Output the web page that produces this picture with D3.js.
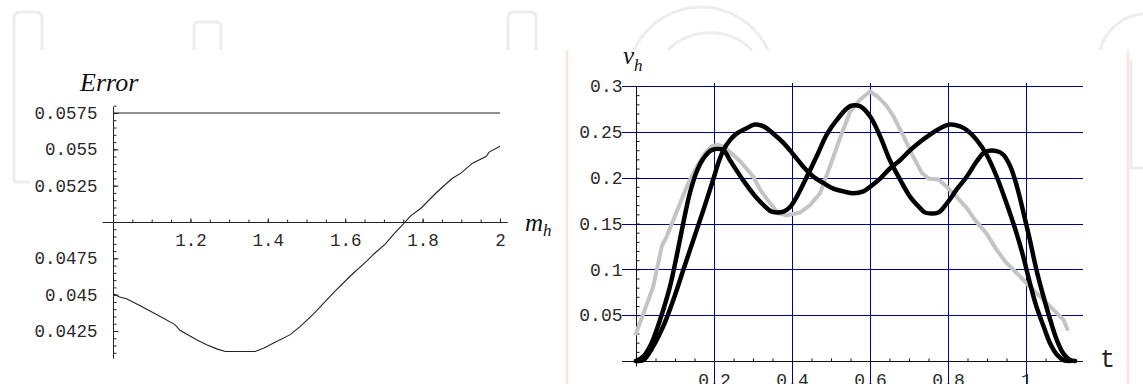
<!DOCTYPE html>
<html>
<head>
<meta charset="utf-8">
<script src="https://cdn.jsdelivr.net/npm/d3@7"></script>
<style>
  body { margin: 0; background: #fff; }
  .tick text { font-family: "Liberation Mono", "DejaVu Sans Mono", monospace; fill: #2a2a2a; }
  .math { font-family: "Liberation Serif", "DejaVu Serif", serif; font-style: italic; fill: #111; }
</style>
</head>
<body>
<script>
// ---- data: left panel (Error vs m_h) ----
let errorCurve = [
  [1.000, 0.04507], [1.017, 0.04484], [1.035, 0.04472], [1.069, 0.04426], [1.121, 0.04352],
  [1.160, 0.04294], [1.173, 0.04255], [1.216, 0.04190], [1.242, 0.04155], [1.268, 0.04127],
  [1.290, 0.04109], [1.367, 0.04109], [1.389, 0.04132], [1.415, 0.04167], [1.458, 0.04225],
  [1.484, 0.04282], [1.519, 0.04370], [1.570, 0.04514], [1.614, 0.04630], [1.657, 0.04734],
  [1.674, 0.04780], [1.704, 0.04850], [1.726, 0.04919], [1.748, 0.04981], [1.769, 0.05042],
  [1.795, 0.05093], [1.838, 0.05208], [1.877, 0.05301], [1.899, 0.05336], [1.929, 0.05405],
  [1.964, 0.05451], [1.972, 0.05481], [2.000, 0.05521]
];
let errorBound = [[1, 0.0575], [2, 0.0575]];
let errXTicks = [1.2, 1.4, 1.6, 1.8, 2];
let errXLabels = ["1.2", "1.4", "1.6", "1.8", "2"];
let errYTicks = [0.0425, 0.045, 0.0475, 0.0525, 0.055, 0.0575];
let errYLabels = ["0.0425", "0.045", "0.0475", "0.0525", "0.055", "0.0575"];

// ---- data: right panel (v_h vs t) ----
let grayCurve = [
  [0, 0.030], [0.019, 0.052], [0.044, 0.081], [0.066, 0.125], [0.079, 0.136], [0.096, 0.154],
  [0.113, 0.172], [0.134, 0.194], [0.156, 0.212], [0.177, 0.227], [0.194, 0.234], [0.208, 0.236],
  [0.224, 0.234], [0.241, 0.228], [0.267, 0.218], [0.301, 0.201], [0.318, 0.187], [0.344, 0.172],
  [0.365, 0.161], [0.386, 0.159], [0.421, 0.162], [0.446, 0.170], [0.472, 0.183], [0.497, 0.212],
  [0.523, 0.243], [0.549, 0.272], [0.574, 0.285], [0.600, 0.294], [0.621, 0.288], [0.643, 0.278],
  [0.660, 0.267], [0.686, 0.245], [0.711, 0.223], [0.733, 0.205], [0.750, 0.199], [0.775, 0.198],
  [0.797, 0.190], [0.822, 0.179], [0.848, 0.167], [0.869, 0.154], [0.899, 0.139], [0.925, 0.121],
  [0.950, 0.107], [0.976, 0.096], [1.010, 0.081], [1.045, 0.067], [1.070, 0.056], [1.096, 0.045],
  [1.106, 0.035]
];
let threePeak = [
  [0, 0], [0.019, 0.005], [0.036, 0.016], [0.053, 0.034], [0.070, 0.056], [0.087, 0.081],
  [0.104, 0.114], [0.121, 0.150], [0.138, 0.183], [0.156, 0.207], [0.173, 0.221], [0.194, 0.230],
  [0.224, 0.230], [0.241, 0.219], [0.275, 0.197], [0.309, 0.178], [0.335, 0.167], [0.348, 0.163],
  [0.378, 0.163], [0.395, 0.168], [0.412, 0.179], [0.438, 0.201], [0.463, 0.223], [0.489, 0.247],
  [0.515, 0.263], [0.549, 0.278], [0.574, 0.278], [0.600, 0.267], [0.626, 0.245], [0.651, 0.219],
  [0.677, 0.198], [0.703, 0.179], [0.728, 0.167], [0.741, 0.162], [0.775, 0.162], [0.797, 0.172],
  [0.822, 0.187], [0.848, 0.201], [0.874, 0.218], [0.895, 0.228], [0.925, 0.229], [0.942, 0.225],
  [0.960, 0.212], [0.977, 0.190], [0.994, 0.161], [1.010, 0.132], [1.027, 0.099], [1.045, 0.070],
  [1.062, 0.045], [1.079, 0.023], [1.096, 0.008], [1.113, 0.001], [1.126, 0]
];
let twoPeak = [
  [0, 0], [0.019, 0.001], [0.044, 0.016], [0.070, 0.038], [0.096, 0.067], [0.121, 0.099],
  [0.147, 0.132], [0.173, 0.165], [0.198, 0.198], [0.211, 0.216], [0.224, 0.230], [0.241, 0.241],
  [0.258, 0.248], [0.284, 0.254], [0.305, 0.258], [0.327, 0.256], [0.352, 0.248], [0.378, 0.238],
  [0.404, 0.225], [0.429, 0.212], [0.455, 0.201], [0.481, 0.194], [0.506, 0.188], [0.532, 0.185],
  [0.557, 0.183], [0.583, 0.185], [0.600, 0.190], [0.626, 0.199], [0.651, 0.210], [0.677, 0.219],
  [0.703, 0.230], [0.728, 0.239], [0.754, 0.247], [0.780, 0.254], [0.805, 0.258], [0.831, 0.256],
  [0.848, 0.252], [0.874, 0.241], [0.899, 0.225], [0.925, 0.201], [0.950, 0.172], [0.976, 0.139],
  [0.993, 0.114], [1.010, 0.085], [1.027, 0.059], [1.045, 0.038], [1.062, 0.019], [1.079, 0.007],
  [1.096, 0.001], [1.113, 0]
];
let vXTicks = [0.2, 0.4, 0.6, 0.8, 1];
let vXLabels = ["0.2", "0.4", "0.6", "0.8", "1"];
let vYTicks = [0.05, 0.1, 0.15, 0.2, 0.25, 0.3];
let vYLabels = ["0.05", "0.1", "0.15", "0.2", "0.25", "0.3"];

let width = 1143, height = 384;
let svg = d3.select("body").append("svg")
    .attr("width", width).attr("height", height);

// faint page watermark behind the figures
let wm = svg.append("g").attr("fill", "none").attr("stroke", "#ededed").attr("stroke-width", 3);
wm.append("path").attr("d", "M14,182 L14,18 Q14,12 20,12 L36,12 Q42,12 42,18 L42,50 M14,182 L30,182");
wm.append("path").attr("d", "M194,50 L194,27 Q194,22 199,22 L216,22 Q221,22 221,27 L221,50");
wm.append("path").attr("d", "M508,50 L508,18 Q508,12 514,12 L530,12 Q536,12 536,18 L536,50");
wm.append("path").attr("d", "M634,50 A73.7,73.7 0 0 1 768,50 M668,50 A60,60 0 0 1 752,50");
wm.append("path").attr("d", "M1143,14 A48,48 0 0 0 1100,50 M1131,60 L1131,168 L1143,168");
svg.append("g").attr("stroke", "#fbe3e3").attr("stroke-width", 2.5)
  .selectAll("line").data([567, 1128]).join("line")
  .attr("x1", d => d).attr("x2", d => d).attr("y1", 50).attr("y2", height);

// snap a scale position to a pixel centre so 1px lines stay crisp
let px = v => Math.round(v) + 0.5;

// ================= left panel =================
let xL = d3.scaleLinear().domain([1, 2]).range([113, 500]);
let yL = d3.scaleLinear().domain([0.0425, 0.0575]).range([331, 113]);
let left = svg.append("g");

left.append("line").attr("stroke", "#222")
  .attr("x1", xL(0.973)).attr("x2", xL(2.02)).attr("y1", px(yL(0.05))).attr("y2", px(yL(0.05)));
left.append("line").attr("stroke", "#222")
  .attr("x1", px(xL(1))).attr("x2", px(xL(1))).attr("y1", yL(0.0579)).attr("y2", yL(0.0406));

left.append("g").attr("transform", "translate(0," + px(yL(0.05)) + ")")
  .call(d3.axisBottom(xL).tickValues(d3.range(1.05, 2.01, 0.05)).tickSize(-3).tickFormat(""))
  .call(g => g.select(".domain").remove());
left.append("g").attr("transform", "translate(0," + px(yL(0.05)) + ")")
  .call(d3.axisBottom(xL).tickValues(errXTicks).tickSize(-4).tickPadding(11)
    .tickFormat((d, i) => errXLabels[i]))
  .call(g => g.select(".domain").remove())
  .call(g => g.selectAll("text").attr("font-size", 17.5));

left.append("g").attr("transform", "translate(" + px(xL(1)) + ",0)")
  .call(d3.axisLeft(yL).tickValues(d3.range(0.041, 0.0581, 0.0005)).tickSize(-3).tickFormat(""))
  .call(g => g.select(".domain").remove());
left.append("g").attr("transform", "translate(" + px(xL(1)) + ",0)")
  .call(d3.axisLeft(yL).tickValues(errYTicks).tickSize(-5).tickPadding(16)
    .tickFormat((d, i) => errYLabels[i]))
  .call(g => g.select(".domain").remove())
  .call(g => g.selectAll("text").attr("font-size", 17.5));
left.selectAll(".tick line").attr("stroke", "#222");

let lineL = d3.line().x(d => xL(d[0])).y(d => yL(d[1]));
left.append("path").datum(errorBound).attr("d", lineL)
  .attr("fill", "none").attr("stroke", "#222").attr("stroke-width", 1.2);
left.append("path").datum(errorCurve).attr("d", lineL)
  .attr("fill", "none").attr("stroke", "#222").attr("stroke-width", 1.1);

left.append("text").attr("class", "math").attr("x", 80).attr("y", 91)
  .attr("font-size", 26).text("Error");
let mh = left.append("text").attr("class", "math").attr("x", 525).attr("y", 231).attr("font-size", 25);
mh.append("tspan").text("m");
mh.append("tspan").attr("font-size", 17).attr("dy", 5).text("h");

// ================= right panel =================
let xR = d3.scaleLinear().domain([0, 1]).range([636, 1026]);
let yR = d3.scaleLinear().domain([0, 0.3]).range([361, 86]);
let right = svg.append("g");
let gridColor = "#000088";

right.append("g").attr("stroke", gridColor).attr("stroke-width", 1)
  .selectAll("line").data(vYTicks).join("line")
  .attr("x1", 622).attr("x2", 1083).attr("y1", d => px(yR(d))).attr("y2", d => px(yR(d)));
right.append("g").attr("stroke", gridColor).attr("stroke-width", 1)
  .selectAll("line").data(vXTicks).join("line")
  .attr("x1", d => px(xR(d))).attr("x2", d => px(xR(d))).attr("y1", yR(0.3) - 3).attr("y2", height);

right.append("line").attr("stroke", "#111")
  .attr("x1", 622).attr("x2", 1083).attr("y1", px(yR(0))).attr("y2", px(yR(0)));
right.append("line").attr("stroke", "#111")
  .attr("x1", px(xR(0))).attr("x2", px(xR(0))).attr("y1", yR(0.3)).attr("y2", yR(-0.006));

right.append("g").attr("transform", "translate(0," + px(yR(0)) + ")")
  .call(d3.axisBottom(xR).tickValues(d3.range(0.05, 1.11, 0.05)).tickSize(-3).tickFormat(""))
  .call(g => g.select(".domain").remove());
right.append("g").attr("transform", "translate(0," + px(yR(0)) + ")")
  .call(d3.axisBottom(xR).tickValues(vXTicks).tickSize(0).tickPadding(12)
    .tickFormat((d, i) => vXLabels[i]))
  .call(g => g.select(".domain").remove())
  .call(g => g.selectAll("text").attr("font-size", 18));

right.append("g").attr("transform", "translate(" + px(xR(0)) + ",0)")
  .call(d3.axisLeft(yR).tickValues(d3.range(0.01, 0.301, 0.01)).tickSize(-3).tickFormat(""))
  .call(g => g.select(".domain").remove());
right.append("g").attr("transform", "translate(" + px(xR(0)) + ",0)")
  .call(d3.axisLeft(yR).tickValues(vYTicks).tickSize(0).tickPadding(14)
    .tickFormat((d, i) => vYLabels[i]))
  .call(g => g.select(".domain").remove())
  .call(g => g.selectAll("text").attr("font-size", 18));
right.selectAll(".tick line").attr("stroke", "#111");

let lineR = d3.line().x(d => xR(d[0])).y(d => yR(d[1])).curve(d3.curveCatmullRom);
right.append("path").datum(grayCurve).attr("d", d3.line().x(d => xR(d[0])).y(d => yR(d[1])))
  .attr("fill", "none").attr("stroke", "#c4c4c4").attr("stroke-width", 4)
  .attr("stroke-linejoin", "round").attr("stroke-linecap", "round");
[threePeak, twoPeak].forEach(function (series) {
  right.append("path").datum(series).attr("d", lineR)
    .attr("fill", "none").attr("stroke", "#000").attr("stroke-width", 4.5)
    .attr("stroke-linejoin", "round").attr("stroke-linecap", "round");
});

let vh = right.append("text").attr("class", "math").attr("x", 623).attr("y", 64).attr("font-size", 25);
vh.append("tspan").text("v");
vh.append("tspan").attr("font-size", 17).attr("dy", 7).text("h");
right.append("text").attr("x", 1100).attr("y", 367)
  .attr("font-family", "Liberation Mono, monospace").attr("font-size", 25).attr("fill", "#222")
  .text("t");
</script>
</body>
</html>
